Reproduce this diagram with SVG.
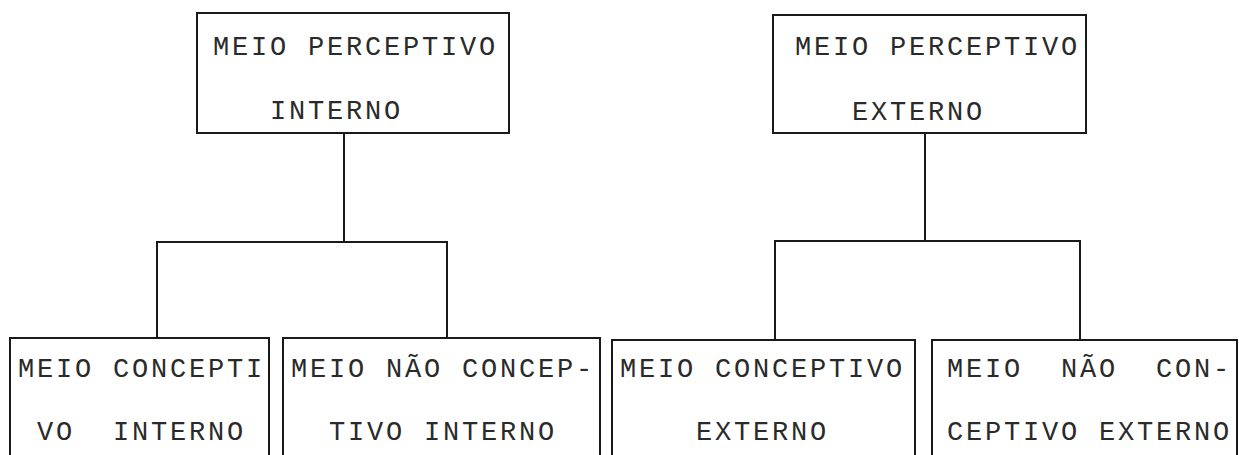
<svg xmlns="http://www.w3.org/2000/svg" width="1239" height="455" viewBox="0 0 1239 455">
<style>
.box{fill:none;stroke:#1a1a1a;stroke-width:2}
.con{fill:none;stroke:#1a1a1a;stroke-width:2}
text{font-family:"Liberation Mono","DejaVu Sans Mono",monospace;font-size:27px;letter-spacing:2.8px;fill:#2a2a2a;white-space:pre}
</style>
<rect width="1239" height="455" fill="#ffffff"/>
<g id="connectors">
<path class="con" d="M344 133 V242 M157 338 V242 H447 V338"/>
<path class="con" d="M925 133 V241 M775 340 V241 H1080 V340"/>
</g>
<g id="n-perceptivo-interno">
<rect class="box" x="197" y="13" width="312" height="120"/>
<text x="213" y="55">MEIO PERCEPTIVO</text>
<text x="213" y="119">   INTERNO</text>
</g>
<g id="n-perceptivo-externo">
<rect class="box" x="773" y="15" width="313" height="118"/>
<text x="795" y="55">MEIO PERCEPTIVO</text>
<text x="795" y="120">   EXTERNO</text>
</g>
<g id="n-conceptivo-interno">
<rect class="box" x="10" y="338" width="259" height="130"/>
<text x="18" y="377">MEIO CONCEPTI</text>
<text x="18" y="440"> VO  INTERNO</text>
</g>
<g id="n-nao-conceptivo-interno">
<rect class="box" x="283" y="338" width="317" height="130"/>
<text x="291" y="377">MEIO NÃO CONCEP-</text>
<text x="291" y="440">  TIVO INTERNO</text>
</g>
<g id="n-conceptivo-externo">
<rect class="box" x="612" y="340" width="303" height="130"/>
<text x="620" y="377">MEIO CONCEPTIVO</text>
<text x="620" y="440">    EXTERNO</text>
</g>
<g id="n-nao-conceptivo-externo">
<rect class="box" x="932" y="340" width="305" height="130"/>
<text x="947" y="377">MEIO  NÃO  CON-</text>
<text x="947" y="440">CEPTIVO EXTERNO</text>
</g>
</svg>
